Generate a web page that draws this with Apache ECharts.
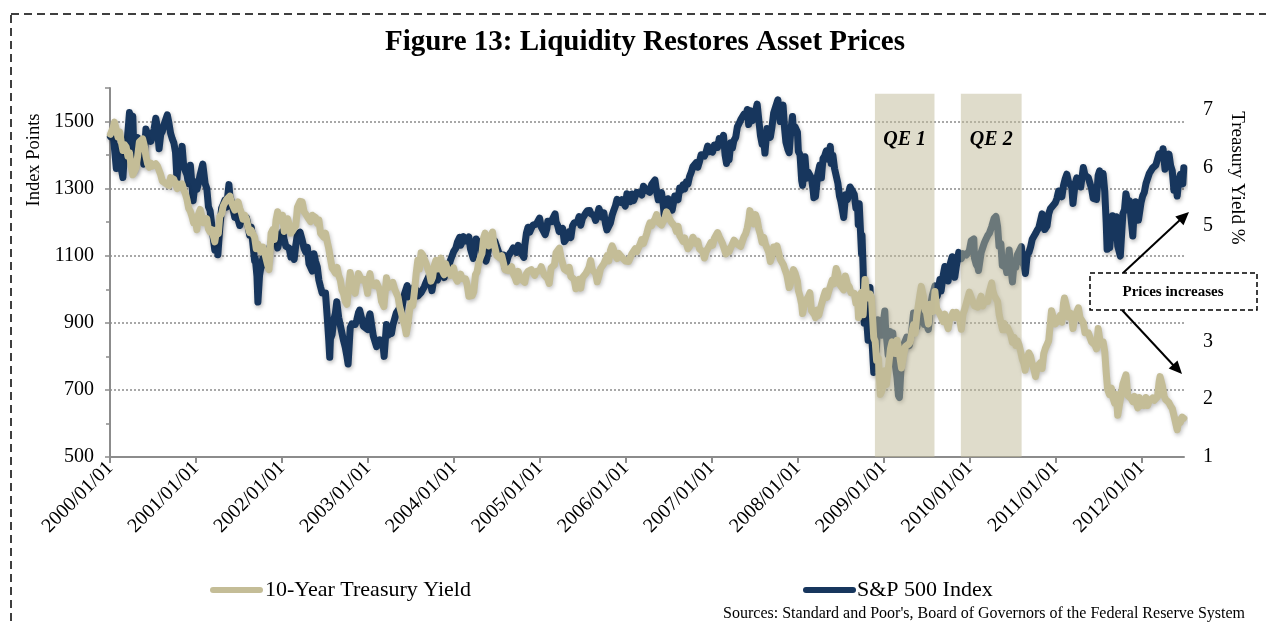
<!DOCTYPE html>
<html>
<head>
<meta charset="utf-8">
<title>Figure 13: Liquidity Restores Asset Prices</title>
<script src="https://cdn.jsdelivr.net/npm/echarts@6/dist/echarts.min.js"></script>
<style>
  html, body { margin: 0; padding: 0; background: #fff; }
  #chart { width: 1266px; height: 624px; }
</style>
</head>
<body>
<div id="chart"></div>
<script>
// S&P 500 index (points)
const spx500 = [
  ['2000/01/03',1455],['2000/01/14',1465],['2000/01/28',1360],['2000/02/04',1424],['2000/02/11',1387],['2000/02/25',1333],
  ['2000/03/03',1409],['2000/03/10',1395],['2000/03/16',1458],['2000/03/24',1527],['2000/03/31',1499],['2000/04/07',1516],
  ['2000/04/14',1357],['2000/04/21',1435],['2000/04/28',1452],['2000/05/05',1433],['2000/05/12',1421],['2000/05/24',1373],
  ['2000/06/02',1478],['2000/06/09',1457],['2000/06/16',1465],['2000/06/23',1441],['2000/06/30',1455],['2000/07/07',1479],
  ['2000/07/14',1510],['2000/07/21',1480],['2000/07/28',1419],['2000/08/04',1462],['2000/08/11',1471],['2000/08/18',1491],
  ['2000/09/01',1520],['2000/09/08',1495],['2000/09/15',1465],['2000/09/22',1449],['2000/09/29',1436],['2000/10/06',1408],
  ['2000/10/12',1329],['2000/10/20',1396],['2000/10/27',1379],['2000/11/03',1426],['2000/11/10',1365],['2000/11/17',1367],
  ['2000/11/24',1341],['2000/11/30',1315],['2000/12/08',1370],['2000/12/15',1312],['2000/12/20',1264],['2000/12/29',1320],
  ['2001/01/05',1298],['2001/01/12',1318],['2001/01/19',1342],['2001/01/30',1373],['2001/02/09',1315],['2001/02/16',1301],
  ['2001/02/23',1246],['2001/03/02',1234],['2001/03/09',1233],['2001/03/16',1150],['2001/03/22',1117],['2001/03/30',1160],
  ['2001/04/04',1103],['2001/04/12',1183],['2001/04/20',1242],['2001/04/27',1253],['2001/05/04',1266],['2001/05/11',1245],
  ['2001/05/21',1312],['2001/05/25',1277],['2001/06/01',1260],['2001/06/08',1264],['2001/06/15',1214],['2001/06/22',1225],
  ['2001/06/29',1224],['2001/07/06',1190],['2001/07/13',1215],['2001/07/20',1210],['2001/07/27',1205],['2001/08/03',1214],
  ['2001/08/10',1190],['2001/08/17',1161],['2001/08/24',1185],['2001/08/31',1134],['2001/09/07',1085],['2001/09/10',1092],
  ['2001/09/17',1039],['2001/09/21',962],['2001/09/28',1041],['2001/10/05',1071],['2001/10/12',1092],['2001/10/19',1073],
  ['2001/10/26',1104],['2001/11/02',1087],['2001/11/09',1120],['2001/11/16',1139],['2001/11/23',1151],['2001/11/30',1139],
  ['2001/12/07',1167],['2001/12/14',1123],['2001/12/21',1144],['2001/12/31',1148],
  ['2002/01/04',1172],['2002/01/11',1146],['2002/01/18',1128],['2002/01/25',1133],['2002/02/01',1122],['2002/02/08',1096],
  ['2002/02/15',1104],['2002/02/22',1089],['2002/03/01',1132],['2002/03/08',1165],['2002/03/19',1170],['2002/03/28',1147],
  ['2002/04/05',1122],['2002/04/12',1111],['2002/04/19',1125],['2002/04/26',1076],['2002/05/03',1073],['2002/05/10',1054],
  ['2002/05/17',1106],['2002/05/24',1083],['2002/05/31',1067],['2002/06/07',1027],['2002/06/14',1007],['2002/06/21',989],
  ['2002/06/28',990],['2002/07/05',989],['2002/07/12',921],['2002/07/19',847],['2002/07/23',797],['2002/07/26',852],
  ['2002/08/02',865],['2002/08/09',908],['2002/08/16',928],['2002/08/22',963],['2002/08/30',916],['2002/09/06',893],
  ['2002/09/13',889],['2002/09/20',846],['2002/09/27',827],['2002/10/04',800],['2002/10/09',777],['2002/10/18',885],
  ['2002/10/25',897],['2002/11/01',900],['2002/11/08',895],['2002/11/15',909],['2002/11/22',930],['2002/11/27',938],
  ['2002/12/06',912],['2002/12/13',890],['2002/12/20',895],['2002/12/31',880],
  ['2003/01/03',909],['2003/01/10',927],['2003/01/14',931],['2003/01/24',861],['2003/01/31',856],['2003/02/07',829],
  ['2003/02/14',835],['2003/02/21',849],['2003/02/28',841],['2003/03/07',829],['2003/03/11',800],['2003/03/21',895],
  ['2003/03/28',863],['2003/04/04',879],['2003/04/11',868],['2003/04/17',893],['2003/04/25',898],['2003/05/02',930],
  ['2003/05/09',933],['2003/05/16',944],['2003/05/23',933],['2003/05/30',964],['2003/06/06',987],['2003/06/17',1011],
  ['2003/06/27',976],['2003/07/03',985],['2003/07/14',1004],['2003/07/25',998],['2003/08/01',980],['2003/08/08',977],
  ['2003/08/15',990],['2003/08/22',993],['2003/08/29',1008],['2003/09/05',1021],['2003/09/18',1040],['2003/09/30',996],
  ['2003/10/10',1038],['2003/10/17',1039],['2003/10/24',1028],['2003/10/31',1051],['2003/11/07',1053],['2003/11/14',1050],
  ['2003/11/21',1035],['2003/11/28',1058],['2003/12/05',1061],['2003/12/12',1074],['2003/12/19',1089],['2003/12/31',1112],
  ['2004/01/09',1122],['2004/01/16',1140],['2004/01/26',1155],['2004/01/30',1131],['2004/02/06',1142],['2004/02/11',1157],
  ['2004/02/20',1144],['2004/02/27',1145],['2004/03/05',1156],['2004/03/12',1120],['2004/03/24',1092],['2004/03/31',1126],
  ['2004/04/05',1150],['2004/04/16',1134],['2004/04/23',1140],['2004/04/30',1107],['2004/05/07',1098],['2004/05/17',1084],
  ['2004/05/21',1094],['2004/05/28',1121],['2004/06/04',1122],['2004/06/11',1136],['2004/06/23',1144],['2004/06/30',1141],
  ['2004/07/09',1112],['2004/07/16',1101],['2004/07/23',1096],['2004/07/30',1102],['2004/08/06',1064],['2004/08/12',1063],
  ['2004/08/20',1099],['2004/08/27',1107],['2004/09/03',1114],['2004/09/10',1123],['2004/09/17',1128],['2004/09/24',1110],
  ['2004/10/01',1131],['2004/10/08',1122],['2004/10/15',1108],['2004/10/25',1095],['2004/10/29',1130],['2004/11/05',1167],
  ['2004/11/12',1185],['2004/11/19',1170],['2004/11/26',1182],['2004/12/03',1191],['2004/12/10',1189],['2004/12/17',1194],
  ['2004/12/31',1212],
  ['2005/01/07',1186],['2005/01/14',1185],['2005/01/24',1163],['2005/01/31',1181],['2005/02/04',1203],['2005/02/11',1205],
  ['2005/02/18',1201],['2005/02/25',1211],['2005/03/07',1225],['2005/03/11',1201],['2005/03/18',1190],['2005/03/24',1172],
  ['2005/04/01',1172],['2005/04/08',1181],['2005/04/15',1142],['2005/04/20',1137],['2005/04/29',1156],['2005/05/06',1172],
  ['2005/05/13',1154],['2005/05/20',1189],['2005/05/27',1198],['2005/06/03',1197],['2005/06/10',1201],['2005/06/17',1217],
  ['2005/06/24',1191],['2005/07/01',1211],['2005/07/08',1212],['2005/07/15',1227],['2005/07/22',1234],['2005/08/01',1235],
  ['2005/08/05',1226],['2005/08/12',1230],['2005/08/19',1220],['2005/08/26',1205],['2005/09/02',1218],['2005/09/09',1241],
  ['2005/09/16',1237],['2005/09/23',1215],['2005/09/30',1228],['2005/10/07',1195],['2005/10/13',1177],['2005/10/21',1179],
  ['2005/10/28',1198],['2005/11/04',1220],['2005/11/11',1235],['2005/11/18',1248],['2005/11/25',1268],['2005/12/02',1265],
  ['2005/12/09',1259],['2005/12/16',1267],['2005/12/30',1248],
  ['2006/01/06',1285],['2006/01/13',1287],['2006/01/20',1261],['2006/01/27',1284],['2006/02/03',1264],['2006/02/10',1267],
  ['2006/02/17',1289],['2006/02/24',1289],['2006/03/03',1287],['2006/03/10',1281],['2006/03/17',1307],['2006/03/24',1302],
  ['2006/03/31',1295],['2006/04/07',1295],['2006/04/13',1289],['2006/04/21',1312],['2006/04/28',1311],['2006/05/05',1326],
  ['2006/05/12',1291],['2006/05/19',1267],['2006/05/26',1280],['2006/06/02',1288],['2006/06/09',1253],['2006/06/13',1223],
  ['2006/06/23',1245],['2006/06/30',1270],['2006/07/07',1265],['2006/07/17',1236],['2006/07/21',1240],['2006/07/28',1278],
  ['2006/08/04',1280],['2006/08/11',1267],['2006/08/18',1302],['2006/08/25',1295],['2006/09/01',1311],['2006/09/08',1299],
  ['2006/09/15',1320],['2006/09/22',1314],['2006/09/29',1336],['2006/10/06',1349],['2006/10/13',1365],['2006/10/20',1368],
  ['2006/10/27',1377],['2006/11/03',1364],['2006/11/10',1380],['2006/11/17',1401],['2006/11/24',1400],['2006/12/01',1397],
  ['2006/12/08',1409],['2006/12/15',1427],['2006/12/22',1410],['2006/12/29',1418],
  ['2007/01/05',1409],['2007/01/12',1430],['2007/01/19',1431],['2007/01/26',1423],['2007/02/02',1449],['2007/02/09',1438],
  ['2007/02/20',1459],['2007/02/27',1399],['2007/03/05',1375],['2007/03/09',1402],['2007/03/16',1386],['2007/03/23',1437],
  ['2007/03/30',1421],['2007/04/05',1443],['2007/04/13',1453],['2007/04/20',1484],['2007/04/27',1494],['2007/05/04',1505],
  ['2007/05/11',1505],['2007/05/18',1522],['2007/05/25',1515],['2007/06/01',1536],['2007/06/07',1491],['2007/06/15',1532],
  ['2007/06/22',1502],['2007/06/29',1503],['2007/07/06',1530],['2007/07/13',1552],['2007/07/19',1553],['2007/07/27',1458],
  ['2007/08/03',1433],['2007/08/09',1453],['2007/08/15',1406],['2007/08/24',1479],['2007/08/31',1473],['2007/09/07',1453],
  ['2007/09/14',1484],['2007/09/21',1525],['2007/09/28',1527],['2007/10/09',1565],['2007/10/12',1561],['2007/10/19',1500],
  ['2007/10/26',1535],['2007/10/31',1549],['2007/11/07',1475],['2007/11/12',1439],['2007/11/21',1416],['2007/11/26',1407],
  ['2007/12/03',1473],['2007/12/10',1515],['2007/12/14',1467],['2007/12/21',1484],['2007/12/31',1468],
  ['2008/01/04',1411],['2008/01/11',1401],['2008/01/18',1325],['2008/01/22',1310],['2008/02/01',1395],['2008/02/08',1331],
  ['2008/02/15',1349],['2008/02/22',1353],['2008/02/29',1331],['2008/03/07',1294],['2008/03/10',1273],['2008/03/14',1288],
  ['2008/03/17',1276],['2008/03/26',1341],['2008/04/04',1370],['2008/04/11',1332],['2008/04/18',1390],['2008/04/25',1397],
  ['2008/05/02',1413],['2008/05/09',1388],['2008/05/19',1426],['2008/05/23',1375],['2008/05/30',1400],['2008/06/06',1360],
  ['2008/06/13',1360],['2008/06/20',1317],['2008/06/27',1278],['2008/07/03',1262],['2008/07/15',1214],['2008/07/23',1282],
  ['2008/07/31',1267],['2008/08/08',1296],['2008/08/11',1305],['2008/08/22',1292],['2008/08/29',1283],['2008/09/05',1242],
  ['2008/09/12',1252],['2008/09/15',1193],['2008/09/19',1255],['2008/09/29',1106],['2008/10/01',1161],['2008/10/06',1057],
  ['2008/10/10',899],['2008/10/13',1003],['2008/10/16',946],['2008/10/22',896],['2008/10/27',848],['2008/11/04',1005],
  ['2008/11/12',853],['2008/11/20',752],['2008/11/24',851],['2008/12/01',816],['2008/12/05',876],['2008/12/08',909],
  ['2008/12/16',913],['2008/12/23',863],['2008/12/31',903],
  ['2009/01/06',935],['2009/01/09',890],['2009/01/15',844],['2009/01/20',805],['2009/01/28',874],['2009/02/05',846],
  ['2009/02/09',870],['2009/02/17',790],['2009/02/27',735],['2009/03/05',683],['2009/03/09',677],['2009/03/17',778],
  ['2009/03/26',832],['2009/04/02',834],['2009/04/09',857],['2009/04/20',832],['2009/04/30',873],['2009/05/08',929],
  ['2009/05/14',893],['2009/05/22',887],['2009/06/03',932],['2009/06/12',946],['2009/06/23',895],['2009/07/02',896],
  ['2009/07/10',880],['2009/07/17',941],['2009/07/27',982],['2009/08/07',1010],['2009/08/17',980],['2009/08/28',1029],
  ['2009/09/02',995],['2009/09/11',1042],['2009/09/18',1068],['2009/09/30',1057],['2009/10/02',1025],['2009/10/09',1071],
  ['2009/10/19',1097],['2009/10/30',1036],['2009/11/06',1070],['2009/11/16',1110],['2009/11/27',1091],['2009/12/04',1106],
  ['2009/12/11',1106],['2009/12/18',1102],['2009/12/31',1115],
  ['2010/01/08',1145],['2010/01/19',1150],['2010/01/22',1092],['2010/01/29',1074],['2010/02/05',1066],['2010/02/08',1056],
  ['2010/02/19',1109],['2010/02/26',1105],['2010/03/05',1139],['2010/03/12',1150],['2010/03/19',1160],['2010/03/26',1167],
  ['2010/04/05',1187],['2010/04/15',1211],['2010/04/23',1217],['2010/04/30',1187],['2010/05/06',1128],['2010/05/14',1136],
  ['2010/05/20',1071],['2010/05/25',1074],['2010/06/04',1065],['2010/06/08',1050],['2010/06/18',1117],['2010/06/29',1041],
  ['2010/07/02',1022],['2010/07/09',1078],['2010/07/16',1065],['2010/07/23',1103],['2010/07/30',1102],['2010/08/09',1127],
  ['2010/08/13',1080],['2010/08/20',1071],['2010/08/26',1047],['2010/09/03',1104],['2010/09/10',1110],['2010/09/17',1126],
  ['2010/09/24',1149],['2010/10/01',1146],['2010/10/08',1166],['2010/10/15',1176],['2010/10/22',1183],['2010/10/29',1183],
  ['2010/11/05',1225],['2010/11/12',1200],['2010/11/16',1178],['2010/11/26',1189],['2010/12/03',1225],['2010/12/10',1240],
  ['2010/12/17',1244],['2010/12/31',1258],
  ['2011/01/07',1271],['2011/01/14',1293],['2011/01/21',1283],['2011/01/28',1276],['2011/02/04',1310],['2011/02/11',1329],
  ['2011/02/18',1343],['2011/02/25',1320],['2011/03/04',1321],['2011/03/11',1304],['2011/03/16',1256],['2011/03/25',1314],
  ['2011/04/01',1332],['2011/04/08',1328],['2011/04/18',1305],['2011/04/29',1363],['2011/05/06',1340],['2011/05/13',1338],
  ['2011/05/20',1333],['2011/05/27',1331],['2011/06/03',1300],['2011/06/10',1271],['2011/06/15',1266],['2011/06/24',1268],
  ['2011/07/01',1340],['2011/07/07',1353],['2011/07/15',1316],['2011/07/22',1345],['2011/07/29',1292],['2011/08/04',1200],
  ['2011/08/08',1119],['2011/08/10',1121],['2011/08/12',1179],['2011/08/19',1124],['2011/08/26',1177],['2011/08/31',1219],
  ['2011/09/09',1154],['2011/09/16',1216],['2011/09/22',1129],['2011/09/30',1131],['2011/10/03',1099],['2011/10/14',1225],
  ['2011/10/21',1238],['2011/10/27',1285],['2011/11/04',1253],['2011/11/11',1264],['2011/11/17',1216],['2011/11/25',1159],
  ['2011/12/02',1244],['2011/12/07',1261],['2011/12/16',1219],['2011/12/19',1206],['2011/12/30',1258],
  ['2012/01/06',1278],['2012/01/13',1289],['2012/01/20',1315],['2012/01/27',1316],['2012/02/03',1345],['2012/02/10',1343],
  ['2012/02/17',1361],['2012/02/24',1366],['2012/03/02',1370],['2012/03/09',1371],['2012/03/16',1404],['2012/03/23',1397],
  ['2012/03/30',1408],['2012/04/02',1419],['2012/04/10',1358],['2012/04/13',1370],['2012/04/20',1379],['2012/04/27',1403],
  ['2012/05/04',1369],['2012/05/11',1353],['2012/05/18',1295],['2012/05/25',1318],['2012/06/01',1278],['2012/06/04',1278],
  ['2012/06/08',1325],['2012/06/15',1343],['2012/06/21',1325],['2012/06/25',1314],['2012/06/29',1362]
];

// 10-year Treasury yield (%)
const tsy10y = [
  ['2000/01/03',6.58],['2000/01/14',6.69],['2000/01/20',6.79],['2000/01/28',6.66],['2000/02/04',6.53],['2000/02/11',6.62],
  ['2000/02/18',6.45],['2000/02/25',6.30],['2000/03/03',6.40],['2000/03/10',6.36],['2000/03/17',6.20],['2000/03/24',6.26],
  ['2000/03/31',6.03],['2000/04/07',5.88],['2000/04/12',5.85],['2000/04/21',6.00],['2000/04/28',6.21],['2000/05/05',6.45],
  ['2000/05/12',6.43],['2000/05/19',6.50],['2000/05/26',6.39],['2000/06/02',6.20],['2000/06/09',6.07],['2000/06/16',6.01],
  ['2000/06/23',6.08],['2000/06/30',6.03],['2000/07/07',6.01],['2000/07/14',6.07],['2000/07/21',6.03],['2000/07/28',6.02],
  ['2000/08/04',5.88],['2000/08/11',5.77],['2000/08/18',5.77],['2000/08/25',5.73],['2000/09/01',5.70],['2000/09/08',5.69],
  ['2000/09/15',5.83],['2000/09/22',5.84],['2000/09/29',5.80],['2000/10/06',5.77],['2000/10/13',5.64],['2000/10/20',5.72],
  ['2000/10/27',5.66],['2000/11/03',5.72],['2000/11/10',5.62],['2000/11/17',5.55],['2000/11/24',5.45],['2000/12/01',5.30],
  ['2000/12/08',5.25],['2000/12/15',5.16],['2000/12/22',5.05],['2000/12/29',5.12],
  ['2001/01/05',4.93],['2001/01/12',5.20],['2001/01/19',5.28],['2001/01/26',5.30],['2001/02/02',5.05],['2001/02/09',5.04],
  ['2001/02/16',5.12],['2001/02/23',4.94],['2001/03/02',4.89],['2001/03/09',4.93],['2001/03/16',4.82],['2001/03/22',4.72],
  ['2001/03/30',4.93],['2001/04/06',4.86],['2001/04/12',5.16],['2001/04/20',5.20],['2001/04/27',5.34],['2001/05/04',5.33],
  ['2001/05/11',5.45],['2001/05/18',5.48],['2001/05/25',5.51],['2001/06/01',5.40],['2001/06/08',5.38],['2001/06/15',5.27],
  ['2001/06/22',5.25],['2001/06/29',5.41],['2001/07/06',5.30],['2001/07/13',5.22],['2001/07/20',5.11],['2001/07/27',5.18],
  ['2001/08/03',5.12],['2001/08/10',4.98],['2001/08/17',4.88],['2001/08/24',4.92],['2001/08/31',4.85],['2001/09/07',4.80],
  ['2001/09/14',4.60],['2001/09/21',4.68],['2001/09/28',4.60],['2001/10/05',4.55],['2001/10/12',4.63],['2001/10/19',4.54],
  ['2001/10/26',4.53],['2001/11/02',4.31],['2001/11/07',4.24],['2001/11/16',4.87],['2001/11/23',4.93],['2001/11/30',4.76],
  ['2001/12/07',5.10],['2001/12/14',5.24],['2001/12/21',5.12],['2001/12/31',5.07],
  ['2002/01/04',5.18],['2002/01/11',4.90],['2002/01/18',4.98],['2002/01/25',5.12],['2002/02/01',5.02],['2002/02/08',4.87],
  ['2002/02/15',4.91],['2002/02/22',4.88],['2002/03/01',5.00],['2002/03/08',5.32],['2002/03/15',5.30],['2002/03/19',5.42],
  ['2002/03/28',5.41],['2002/04/05',5.24],['2002/04/12',5.20],['2002/04/19',5.21],['2002/04/26',5.11],['2002/05/03',5.07],
  ['2002/05/10',5.18],['2002/05/17',5.21],['2002/05/24',5.14],['2002/05/31',5.04],['2002/06/07',5.10],['2002/06/14',4.87],
  ['2002/06/21',4.86],['2002/06/28',4.80],['2002/07/05',4.87],['2002/07/12',4.73],['2002/07/19',4.60],['2002/07/26',4.58],
  ['2002/08/02',4.27],['2002/08/09',4.23],['2002/08/16',4.18],['2002/08/23',4.28],['2002/08/30',4.14],['2002/09/06',4.06],
  ['2002/09/13',3.89],['2002/09/20',3.82],['2002/09/27',3.69],['2002/10/04',3.64],['2002/10/10',3.61],['2002/10/18',4.19],
  ['2002/10/25',4.01],['2002/11/01',3.91],['2002/11/08',3.83],['2002/11/15',4.03],['2002/11/22',4.17],['2002/11/29',4.20],
  ['2002/12/06',4.06],['2002/12/13',4.09],['2002/12/20',4.07],['2002/12/31',3.83],
  ['2003/01/03',4.04],['2003/01/10',4.17],['2003/01/17',3.98],['2003/01/24',3.96],['2003/01/31',3.96],['2003/02/07',4.01],
  ['2003/02/14',3.98],['2003/02/21',3.88],['2003/02/28',3.69],['2003/03/07',3.69],['2003/03/10',3.60],['2003/03/21',4.10],
  ['2003/03/28',3.93],['2003/04/04',3.91],['2003/04/11',3.98],['2003/04/17',4.02],['2003/04/25',3.90],['2003/05/02',3.92],
  ['2003/05/09',3.77],['2003/05/16',3.60],['2003/05/23',3.49],['2003/05/30',3.37],['2003/06/06',3.28],['2003/06/13',3.13],
  ['2003/06/20',3.29],['2003/06/27',3.53],['2003/07/03',3.66],['2003/07/11',3.62],['2003/07/18',3.87],['2003/07/25',4.17],
  ['2003/08/01',4.40],['2003/08/08',4.25],['2003/08/15',4.53],['2003/08/22',4.49],['2003/08/29',4.46],['2003/09/05',4.35],
  ['2003/09/12',4.26],['2003/09/19',4.18],['2003/09/26',4.04],['2003/10/03',4.11],['2003/10/10',4.31],['2003/10/17',4.40],
  ['2003/10/24',4.25],['2003/10/31',4.33],['2003/11/07',4.44],['2003/11/14',4.21],['2003/11/21',4.15],['2003/11/28',4.34],
  ['2003/12/05',4.23],['2003/12/12',4.22],['2003/12/19',4.14],['2003/12/31',4.27],
  ['2004/01/09',4.09],['2004/01/16',4.04],['2004/01/23',4.09],['2004/01/30',4.16],['2004/02/06',4.08],['2004/02/13',4.06],
  ['2004/02/20',4.08],['2004/02/27',3.97],['2004/03/05',3.78],['2004/03/12',3.80],['2004/03/19',3.79],['2004/03/26',3.86],
  ['2004/04/02',4.15],['2004/04/09',4.20],['2004/04/16',4.36],['2004/04/23',4.45],['2004/04/30',4.52],['2004/05/07',4.79],
  ['2004/05/13',4.87],['2004/05/21',4.73],['2004/05/28',4.65],['2004/06/04',4.80],['2004/06/14',4.89],['2004/06/18',4.72],
  ['2004/06/25',4.71],['2004/07/02',4.48],['2004/07/09',4.46],['2004/07/16',4.44],['2004/07/23',4.48],['2004/07/30',4.48],
  ['2004/08/06',4.24],['2004/08/13',4.24],['2004/08/20',4.22],['2004/08/27',4.23],['2004/09/03',4.29],['2004/09/10',4.17],
  ['2004/09/17',4.11],['2004/09/24',4.03],['2004/10/01',4.21],['2004/10/08',4.11],['2004/10/15',4.07],['2004/10/22',4.04],
  ['2004/10/29',4.02],['2004/11/05',4.17],['2004/11/12',4.21],['2004/11/19',4.20],['2004/11/26',4.24],['2004/12/03',4.26],
  ['2004/12/10',4.14],['2004/12/17',4.21],['2004/12/31',4.22],
  ['2005/01/07',4.29],['2005/01/14',4.21],['2005/01/21',4.14],['2005/01/28',4.14],['2005/02/04',4.08],['2005/02/10',4.00],
  ['2005/02/18',4.27],['2005/02/25',4.27],['2005/03/04',4.32],['2005/03/11',4.53],['2005/03/18',4.51],['2005/03/25',4.61],
  ['2005/04/01',4.45],['2005/04/08',4.46],['2005/04/15',4.25],['2005/04/22',4.24],['2005/04/29',4.21],['2005/05/06',4.28],
  ['2005/05/13',4.12],['2005/05/20',4.12],['2005/05/27',4.07],['2005/06/03',3.91],['2005/06/10',4.01],['2005/06/17',4.07],
  ['2005/06/24',3.92],['2005/07/01',4.10],['2005/07/08',4.09],['2005/07/15',4.17],['2005/07/22',4.22],['2005/07/29',4.28],
  ['2005/08/05',4.40],['2005/08/12',4.23],['2005/08/19',4.20],['2005/08/26',4.18],['2005/09/02',4.03],['2005/09/09',4.13],
  ['2005/09/16',4.26],['2005/09/23',4.25],['2005/09/30',4.34],['2005/10/07',4.35],['2005/10/14',4.48],['2005/10/21',4.39],
  ['2005/10/28',4.57],['2005/11/04',4.65],['2005/11/11',4.58],['2005/11/18',4.49],['2005/11/25',4.43],['2005/12/02',4.52],
  ['2005/12/09',4.52],['2005/12/16',4.45],['2005/12/30',4.39],
  ['2006/01/06',4.38],['2006/01/13',4.38],['2006/01/20',4.37],['2006/01/27',4.51],['2006/02/03',4.53],['2006/02/10',4.60],
  ['2006/02/17',4.55],['2006/02/24',4.56],['2006/03/03',4.68],['2006/03/10',4.76],['2006/03/17',4.69],['2006/03/24',4.67],
  ['2006/03/31',4.86],['2006/04/07',4.97],['2006/04/14',5.05],['2006/04/21',5.00],['2006/04/28',5.07],['2006/05/05',5.11],
  ['2006/05/12',5.19],['2006/05/19',5.06],['2006/05/26',5.05],['2006/06/02',5.01],['2006/06/09',4.98],['2006/06/16',5.13],
  ['2006/06/23',5.24],['2006/06/28',5.25],['2006/07/07',5.11],['2006/07/14',5.06],['2006/07/21',5.03],['2006/07/28',4.99],
  ['2006/08/04',4.90],['2006/08/11',4.99],['2006/08/18',4.83],['2006/08/25',4.78],['2006/09/01',4.73],['2006/09/08',4.79],
  ['2006/09/15',4.78],['2006/09/22',4.60],['2006/09/29',4.64],['2006/10/06',4.69],['2006/10/13',4.80],['2006/10/20',4.78],
  ['2006/10/27',4.69],['2006/11/03',4.73],['2006/11/10',4.60],['2006/11/17',4.58],['2006/11/24',4.55],['2006/12/01',4.44],
  ['2006/12/08',4.55],['2006/12/15',4.60],['2006/12/22',4.62],['2006/12/29',4.71],
  ['2007/01/05',4.66],['2007/01/12',4.78],['2007/01/19',4.80],['2007/01/26',4.88],['2007/02/02',4.81],['2007/02/09',4.79],
  ['2007/02/16',4.69],['2007/02/23',4.68],['2007/03/02',4.51],['2007/03/09',4.59],['2007/03/16',4.55],['2007/03/23',4.62],
  ['2007/03/30',4.65],['2007/04/06',4.75],['2007/04/13',4.74],['2007/04/20',4.68],['2007/04/27',4.70],['2007/05/04',4.64],
  ['2007/05/11',4.67],['2007/05/18',4.81],['2007/05/25',4.86],['2007/06/01',4.96],['2007/06/08',5.12],['2007/06/12',5.26],
  ['2007/06/22',5.14],['2007/06/29',5.03],['2007/07/06',5.19],['2007/07/13',5.10],['2007/07/20',4.94],['2007/07/27',4.84],
  ['2007/08/03',4.71],['2007/08/10',4.80],['2007/08/17',4.68],['2007/08/24',4.61],['2007/08/31',4.54],['2007/09/07',4.38],
  ['2007/09/14',4.47],['2007/09/21',4.63],['2007/09/28',4.59],['2007/10/05',4.65],['2007/10/12',4.68],['2007/10/19',4.42],
  ['2007/10/26',4.41],['2007/11/02',4.32],['2007/11/09',4.23],['2007/11/16',4.15],['2007/11/26',3.93],['2007/11/30',3.97],
  ['2007/12/07',4.11],['2007/12/14',4.24],['2007/12/21',4.18],['2007/12/31',4.04],
  ['2008/01/04',3.88],['2008/01/11',3.78],['2008/01/18',3.64],['2008/01/22',3.48],['2008/01/31',3.67],['2008/02/08',3.67],
  ['2008/02/15',3.77],['2008/02/22',3.84],['2008/02/29',3.53],['2008/03/07',3.53],['2008/03/14',3.45],['2008/03/17',3.41],
  ['2008/03/24',3.54],['2008/03/31',3.45],['2008/04/07',3.57],['2008/04/14',3.57],['2008/04/21',3.78],['2008/04/28',3.87],
  ['2008/05/05',3.76],['2008/05/12',3.86],['2008/05/19',3.83],['2008/05/27',4.06],['2008/06/02',3.99],['2008/06/13',4.26],
  ['2008/06/20',4.17],['2008/06/27',3.99],['2008/07/03',3.98],['2008/07/15',3.89],['2008/07/22',4.13],['2008/07/31',3.99],
  ['2008/08/08',3.94],['2008/08/15',3.84],['2008/08/22',3.87],['2008/08/29',3.83],['2008/09/05',3.66],['2008/09/12',3.74],
  ['2008/09/16',3.41],['2008/09/19',3.79],['2008/09/30',3.85],['2008/10/06',3.46],['2008/10/14',4.07],['2008/10/20',3.82],
  ['2008/10/27',3.75],['2008/11/04',3.82],['2008/11/10',3.76],['2008/11/20',3.06],['2008/11/26',3.00],['2008/12/02',2.67],
  ['2008/12/10',2.71],['2008/12/18',2.08],['2008/12/24',2.14],['2008/12/31',2.25],
  ['2009/01/06',2.49],['2009/01/13',2.25],['2009/01/21',2.53],['2009/01/30',2.87],['2009/02/06',2.99],['2009/02/13',2.89],
  ['2009/02/20',2.79],['2009/02/27',3.02],['2009/03/06',2.87],['2009/03/13',2.89],['2009/03/18',2.54],['2009/03/27',2.76],
  ['2009/04/03',2.91],['2009/04/09',2.92],['2009/04/17',2.95],['2009/04/24',2.99],['2009/05/01',3.16],['2009/05/08',3.29],
  ['2009/05/15',3.14],['2009/05/22',3.45],['2009/05/29',3.47],['2009/06/05',3.83],['2009/06/10',3.95],['2009/06/19',3.78],
  ['2009/06/26',3.54],['2009/07/02',3.50],['2009/07/10',3.30],['2009/07/17',3.64],['2009/07/24',3.66],['2009/07/31',3.52],
  ['2009/08/07',3.86],['2009/08/14',3.57],['2009/08/21',3.56],['2009/08/28',3.47],['2009/09/04',3.45],['2009/09/11',3.34],
  ['2009/09/18',3.47],['2009/09/25',3.32],['2009/10/02',3.22],['2009/10/09',3.38],['2009/10/16',3.43],['2009/10/23',3.50],
  ['2009/10/30',3.41],['2009/11/06',3.50],['2009/11/13',3.43],['2009/11/20',3.37],['2009/11/27',3.21],['2009/12/04',3.47],
  ['2009/12/11',3.55],['2009/12/18',3.54],['2009/12/31',3.85],
  ['2010/01/08',3.83],['2010/01/15',3.68],['2010/01/22',3.61],['2010/01/29',3.63],['2010/02/05',3.59],['2010/02/12',3.69],
  ['2010/02/19',3.78],['2010/02/26',3.61],['2010/03/05',3.69],['2010/03/12',3.71],['2010/03/19',3.69],['2010/03/26',3.86],
  ['2010/04/05',4.01],['2010/04/09',3.89],['2010/04/16',3.79],['2010/04/23',3.81],['2010/04/30',3.69],['2010/05/07',3.45],
  ['2010/05/14',3.44],['2010/05/21',3.20],['2010/05/28',3.31],['2010/06/04',3.20],['2010/06/11',3.24],['2010/06/18',3.22],
  ['2010/06/25',3.11],['2010/07/02',2.98],['2010/07/09',3.07],['2010/07/16',2.93],['2010/07/23',3.01],['2010/07/30',2.94],
  ['2010/08/06',2.82],['2010/08/13',2.69],['2010/08/20',2.61],['2010/08/25',2.50],['2010/09/03',2.71],['2010/09/10',2.80],
  ['2010/09/17',2.74],['2010/09/24',2.61],['2010/10/01',2.52],['2010/10/08',2.39],['2010/10/15',2.56],['2010/10/22',2.56],
  ['2010/10/29',2.63],['2010/11/05',2.53],['2010/11/12',2.79],['2010/11/19',2.88],['2010/11/26',2.87],['2010/12/03',3.01],
  ['2010/12/10',3.32],['2010/12/15',3.53],['2010/12/24',3.39],['2010/12/31',3.30],
  ['2011/01/07',3.34],['2011/01/14',3.33],['2011/01/21',3.45],['2011/01/28',3.33],['2011/02/04',3.66],['2011/02/08',3.75],
  ['2011/02/18',3.58],['2011/02/25',3.42],['2011/03/04',3.49],['2011/03/11',3.40],['2011/03/16',3.22],['2011/03/25',3.44],
  ['2011/04/01',3.45],['2011/04/08',3.58],['2011/04/15',3.41],['2011/04/22',3.39],['2011/04/29',3.32],['2011/05/06',3.15],
  ['2011/05/13',3.17],['2011/05/20',3.15],['2011/05/27',3.07],['2011/06/03',2.99],['2011/06/10',2.98],['2011/06/17',2.94],
  ['2011/06/24',2.87],['2011/07/01',3.22],['2011/07/08',3.03],['2011/07/15',2.94],['2011/07/22',2.99],['2011/07/29',2.82],
  ['2011/08/04',2.47],['2011/08/10',2.17],['2011/08/18',2.08],['2011/08/26',2.19],['2011/09/02',2.02],['2011/09/09',1.93],
  ['2011/09/16',2.08],['2011/09/22',1.72],['2011/09/30',1.92],['2011/10/07',2.08],['2011/10/14',2.26],['2011/10/21',2.23],
  ['2011/10/27',2.42],['2011/11/04',2.06],['2011/11/11',2.04],['2011/11/18',2.01],['2011/11/25',1.96],['2011/12/02',2.05],
  ['2011/12/09',2.07],['2011/12/16',1.85],['2011/12/23',2.03],['2011/12/30',1.89],
  ['2012/01/06',1.96],['2012/01/13',1.89],['2012/01/20',2.03],['2012/01/27',1.89],['2012/02/03',1.97],['2012/02/10',1.99],
  ['2012/02/17',2.02],['2012/02/24',1.98],['2012/03/02',1.98],['2012/03/09',2.04],['2012/03/16',2.30],['2012/03/20',2.39],
  ['2012/03/30',2.23],['2012/04/06',2.06],['2012/04/13',1.99],['2012/04/20',1.96],['2012/04/27',1.94],['2012/05/04',1.88],
  ['2012/05/11',1.84],['2012/05/18',1.72],['2012/05/25',1.75],['2012/06/01',1.47],['2012/06/08',1.64],['2012/06/15',1.60],
  ['2012/06/22',1.69],['2012/06/29',1.67]
];

// shaded QE windows as drawn
const qeNames = ['QE 1', 'QE 2'];
const qeStarts = ['2008/11/25', '2009/11/25'];
const qeEnds = ['2009/08/05', '2010/08/10'];

const yearTicks = [2000, 2001, 2002, 2003, 2004, 2005, 2006, 2007, 2008, 2009, 2010, 2011, 2012];

// date string -> fractional year (2000/01/01 = 2000.0)
function toYear(s) {
  const p = s.split('/').map(Number);
  const start = Date.UTC(p[0], 0, 1);
  const end = Date.UTC(p[0] + 1, 0, 1);
  return p[0] + (Date.UTC(p[0], p[1] - 1, p[2]) - start) / (end - start);
}

const serif = 'Liberation Serif';
const navy = '#17365d';
const tan = '#c4bd97';

const chart = echarts.init(document.getElementById('chart'));

const option = {
  animation: false,
  backgroundColor: '#fff',
  textStyle: { fontFamily: serif, color: '#000' },
  grid: { left: 110, right: 82, top: 88, bottom: 167 },
  xAxis: {
    type: 'value',
    min: yearTicks[0],
    max: toYear('2012/06/30'),
    interval: 1,
    axisLine: { lineStyle: { color: '#8c8c8c', width: 2 } },
    axisTick: { length: 6, lineStyle: { color: '#8c8c8c', width: 2 } },
    splitLine: { show: false },
    axisLabel: {
      rotate: 45,
      margin: 8,
      fontFamily: serif,
      fontSize: 20,
      color: '#000',
      showMaxLabel: false,
      formatter: v => Math.round(v) + '/01/01'
    }
  },
  yAxis: [
    {
      type: 'value',
      min: 500,
      max: 1600,
      interval: 200,
      axisLine: { show: true, lineStyle: { color: '#8c8c8c', width: 2 } },
      axisTick: { show: true, length: 5, lineStyle: { color: '#8c8c8c', width: 1.5 } },
      minorTick: { show: true, splitNumber: 2, length: 4, lineStyle: { color: '#8c8c8c', width: 1.5 } },
      splitLine: {
        show: true,
        showMinLine: false,
        showMaxLine: false,
        lineStyle: { color: '#8c8c8c', type: [2, 2], width: 1.5 }
      },
      axisLabel: {
        fontFamily: serif, fontSize: 20, color: '#000', margin: 16, showMaxLabel: false,
        formatter: v => String(v)
      }
    },
    {
      type: 'value',
      min: 1,
      max: 7.38,
      interval: 1,
      position: 'right',
      axisLine: { show: false },
      axisTick: { show: false },
      splitLine: { show: false },
      axisLabel: { fontFamily: serif, fontSize: 20, color: '#000', margin: 19, showMaxLabel: false }
    }
  ],
  series: [
    {
      name: 'S&P 500 Index',
      type: 'line',
      yAxisIndex: 0,
      showSymbol: false,
      z: 2,
      lineStyle: {
        color: navy, width: 7, cap: 'round', join: 'round',
        shadowColor: 'rgba(0,0,0,0.3)', shadowBlur: 4, shadowOffsetX: 1, shadowOffsetY: 2
      },
      data: spx500.map(d => [toYear(d[0]), d[1]])
    },
    {
      name: '10-Year Treasury Yield',
      type: 'line',
      yAxisIndex: 1,
      showSymbol: false,
      z: 3,
      lineStyle: {
        color: tan, width: 7, cap: 'round', join: 'round',
        shadowColor: 'rgba(0,0,0,0.25)', shadowBlur: 4, shadowOffsetX: 1, shadowOffsetY: 2
      },
      data: tsy10y.map(d => [toYear(d[0]), d[1]]),
      markArea: {
        z: 10,
        silent: true,
        itemStyle: { color: 'rgba(191,185,151,0.5)' },
        label: {
          position: 'insideTop',
          distance: 36,
          fontFamily: serif,
          fontSize: 20,
          fontWeight: 'bold',
          fontStyle: 'italic',
          color: '#000'
        },
        data: qeNames.map((n, i) => [
          { name: n, xAxis: toYear(qeStarts[i]), yAxis: 1 },
          { xAxis: toYear(qeEnds[i]), yAxis: 7.28 }
        ])
      }
    }
  ],
  graphic: [
    // dashed frame
    { type: 'rect', shape: { x: 11, y: 14, width: 1300, height: 700 }, style: { fill: null, stroke: '#000', lineWidth: 1.5, lineDash: [8, 5] }, z: 1 },
    { type: 'text', x: 645, y: 43, style: { text: 'Figure 13: Liquidity Restores Asset Prices', font: 'bold 29px "Liberation Serif"', fill: '#000', align: 'center', verticalAlign: 'middle' } },
    { type: 'text', x: 34, y: 160, rotation: Math.PI / 2, style: { text: 'Index Points', font: '18.5px "Liberation Serif"', fill: '#000', align: 'center', verticalAlign: 'middle' } },
    { type: 'text', x: 1237, y: 178, rotation: -Math.PI / 2, style: { text: 'Treasury Yield %', font: '19px "Liberation Serif"', fill: '#000', align: 'center', verticalAlign: 'middle' } },
    // annotation box and arrows
    { type: 'line', shape: { x1: 1123, y1: 273, x2: 1181, y2: 219 }, style: { stroke: '#000', lineWidth: 2 }, z: 20 },
    { type: 'polygon', shape: { points: [[1189, 212], [1183.5, 225.2], [1175.3, 216.4]] }, style: { fill: '#000' }, z: 20 },
    { type: 'line', shape: { x1: 1122, y1: 310, x2: 1175, y2: 367 }, style: { stroke: '#000', lineWidth: 2 }, z: 20 },
    { type: 'polygon', shape: { points: [[1182, 374], [1177.5, 360.4], [1168.7, 368.6]] }, style: { fill: '#000' }, z: 20 },
    { type: 'rect', shape: { x: 1090, y: 273, width: 167, height: 37 }, style: { fill: '#fff', stroke: '#000', lineWidth: 1.5, lineDash: [5, 3] }, z: 21 },
    { type: 'text', x: 1173, y: 292, style: { text: 'Prices increases', font: 'bold 15px "Liberation Serif"', fill: '#000', align: 'center', verticalAlign: 'middle' }, z: 22 },
    // legend
    { type: 'line', shape: { x1: 213, y1: 590, x2: 260, y2: 590 }, style: { stroke: tan, lineWidth: 6, lineCap: 'round' } },
    { type: 'text', x: 265, y: 590, style: { text: '10-Year Treasury Yield', font: '22px "Liberation Serif"', fill: '#000', align: 'left', verticalAlign: 'middle' } },
    { type: 'line', shape: { x1: 806, y1: 590, x2: 853, y2: 590 }, style: { stroke: navy, lineWidth: 6, lineCap: 'round' } },
    { type: 'text', x: 857, y: 590, style: { text: 'S&P 500 Index', font: '22px "Liberation Serif"', fill: '#000', align: 'left', verticalAlign: 'middle' } },
    { type: 'text', x: 1245, y: 614, style: { text: "Sources: Standard and Poor's, Board of Governors of the Federal Reserve System", font: '16px "Liberation Serif"', fill: '#000', align: 'right', verticalAlign: 'middle' } }
  ]
};

chart.setOption(option);
</script>
</body>
</html>
